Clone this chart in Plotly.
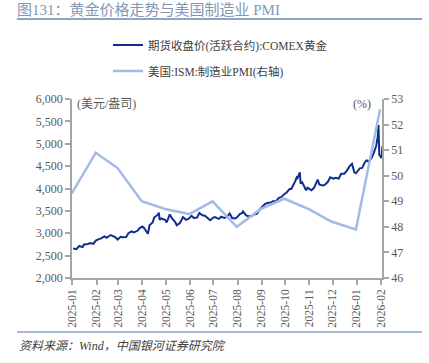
import plotly.graph_objects as go

# ---- data ----
gold_dates = [
    "2025-01-02", "2025-01-06", "2025-01-08", "2025-01-10", "2025-01-14", "2025-01-16",
    "2025-01-21", "2025-01-24", "2025-01-28", "2025-01-31", "2025-02-04", "2025-02-07",
    "2025-02-11", "2025-02-14", "2025-02-19", "2025-02-21", "2025-02-25", "2025-02-28",
    "2025-03-04", "2025-03-07", "2025-03-11", "2025-03-14", "2025-03-18", "2025-03-21",
    "2025-03-26", "2025-03-28", "2025-04-01", "2025-04-03", "2025-04-08", "2025-04-10",
    "2025-04-14", "2025-04-16", "2025-04-21", "2025-04-22", "2025-04-23", "2025-04-25",
    "2025-04-30", "2025-05-02", "2025-05-06", "2025-05-09", "2025-05-13", "2025-05-15",
    "2025-05-19", "2025-05-23", "2025-05-27", "2025-05-30", "2025-06-03", "2025-06-06",
    "2025-06-10", "2025-06-13", "2025-06-17", "2025-06-20", "2025-06-24", "2025-06-27",
    "2025-07-01", "2025-07-03", "2025-07-08", "2025-07-11", "2025-07-15", "2025-07-18",
    "2025-07-22", "2025-07-25", "2025-07-29", "2025-07-31", "2025-08-04", "2025-08-07",
    "2025-08-08", "2025-08-12", "2025-08-15", "2025-08-20", "2025-08-22", "2025-08-26",
    "2025-08-29", "2025-09-02", "2025-09-05", "2025-09-09", "2025-09-12", "2025-09-16",
    "2025-09-19", "2025-09-23", "2025-09-26", "2025-09-30", "2025-10-03", "2025-10-07",
    "2025-10-09", "2025-10-14", "2025-10-16", "2025-10-17", "2025-10-20", "2025-10-21",
    "2025-10-23", "2025-10-27", "2025-10-28", "2025-10-30", "2025-11-04", "2025-11-07",
    "2025-11-10", "2025-11-12", "2025-11-14", "2025-11-18", "2025-11-21", "2025-11-25",
    "2025-11-28", "2025-12-02", "2025-12-05", "2025-12-09", "2025-12-12", "2025-12-16",
    "2025-12-19", "2025-12-23", "2025-12-26", "2025-12-29", "2025-12-31", "2026-01-05",
    "2026-01-08", "2026-01-12", "2026-01-14", "2026-01-16", "2026-01-20", "2026-01-22",
    "2026-01-26", "2026-01-28", "2026-01-29", "2026-01-30", "2026-02-02", "2026-02-03",
]
gold_values = [
    2660, 2645, 2680, 2715, 2690, 2750,
    2760, 2780, 2765, 2835, 2870, 2885,
    2930, 2900, 2960, 2950, 2915, 2860,
    2920, 2910, 2915, 3000, 3040, 3020,
    3060, 3110, 3150, 3120, 2990, 3180,
    3240, 3350, 3420, 3460, 3300, 3330,
    3300, 3240, 3420, 3330, 3250, 3180,
    3230, 3360, 3300, 3320, 3390, 3340,
    3350, 3450, 3400, 3390, 3330, 3290,
    3350, 3360, 3320, 3370, 3340, 3360,
    3440, 3340, 3330, 3350, 3430, 3455,
    3490, 3400, 3380, 3390, 3420, 3435,
    3520, 3590, 3650, 3680, 3680, 3720,
    3705, 3790, 3805, 3870, 3910, 3990,
    3990, 4160, 4250, 4230, 4360, 4110,
    4140, 4000, 3960, 4020, 3960, 4010,
    4120, 4200, 4090, 4070, 4080, 4150,
    4250, 4220, 4240, 4220, 4330, 4330,
    4390, 4500, 4550, 4360, 4340, 4450,
    4460, 4600, 4630, 4600, 4680, 4750,
    4950, 5150, 5420, 4750, 4680, 4950,
]

pmi_dates = [
    "2024-12-31", "2025-01-31", "2025-02-28", "2025-03-31", "2025-04-30", "2025-05-31",
    "2025-06-30", "2025-07-31", "2025-08-31", "2025-09-30", "2025-10-31", "2025-11-30",
    "2025-12-31", "2026-01-31",
]
pmi_values = [49.3, 50.9, 50.3, 49.0, 48.7, 48.5, 49.0, 48.0, 48.7, 49.1, 48.7, 48.2, 47.9, 52.6]

tick_dates = [
    "2025-01-01", "2025-02-01", "2025-03-01", "2025-04-01", "2025-05-01", "2025-06-01",
    "2025-07-01", "2025-08-01", "2025-09-01", "2025-10-01", "2025-11-01", "2025-12-01",
    "2026-01-01", "2026-02-01",
]
tick_labels = [
    "2025-01", "2025-02", "2025-03", "2025-04", "2025-05", "2025-06", "2025-07",
    "2025-08", "2025-09", "2025-10", "2025-11", "2025-12", "2026-01", "2026-02",
]

gold_name = "期货收盘价(活跃合约):COMEX黄金"
pmi_name = "美国:ISM:制造业PMI(右轴)"
title_text = "图131：黄金价格走势与美国制造业 PMI"
source_text = "资料来源：Wind，中国银河证券研究院"

# ---- figure ----
W, H = 429, 363
L, R, T, B = 72, 47, 99, 85
PW, PH = W - L - R, H - T - B

def px_x(x):
    return (x - L) / PW

def px_y(y):
    return 1 - (y - T) / PH

FONT = "Liberation Serif, 'Noto Sans CJK SC', serif"
GRAY = "#595959"
AXIS = "#A6A6A6"
NAVY = "#0F2F8F"
LIGHT = "#A3B9E6"
RULE = "#8EA1CB"

fig = go.Figure()
fig.add_trace(go.Scatter(
    x=pmi_dates, y=pmi_values, name=pmi_name, mode="lines",
    line=dict(color=LIGHT, width=2.5), yaxis="y2", legend="legend2",
))
fig.add_trace(go.Scatter(
    x=gold_dates, y=gold_values, name=gold_name, mode="lines",
    line=dict(color=NAVY, width=2), yaxis="y", legend="legend",
))

axis_common = dict(
    showgrid=False, zeroline=False, showline=True, linecolor=AXIS, linewidth=1.5,
    ticks="outside", ticklen=5, tickcolor=AXIS, tickwidth=1.5,
)

fig.update_layout(
    width=W, height=H,
    margin=dict(l=L, r=R, t=T, b=B, pad=0, autoexpand=False),
    paper_bgcolor="white", plot_bgcolor="white",
    font=dict(family=FONT, color=GRAY, size=12),
    showlegend=True,
    xaxis=dict(
        type="date", range=["2024-12-31 12:00", "2026-02-02 12:00"],
        tickvals=tick_dates, ticktext=tick_labels, tickangle=-90,
        tickfont=dict(size=11.5, color=GRAY, family=FONT),
        **axis_common,
    ),
    yaxis=dict(
        range=[2000, 6000], dtick=500, tickformat=",",
        tickfont=dict(size=12, color=GRAY, family=FONT),
        **axis_common,
    ),
    yaxis2=dict(
        overlaying="y", side="right", range=[46, 53], dtick=1,
        tickfont=dict(size=12, color=GRAY, family=FONT),
        **axis_common,
    ),
    legend=dict(
        x=px_x(108), y=px_y(45), xanchor="left", yanchor="middle",
        bgcolor="rgba(0,0,0,0)", font=dict(size=11.5, color="#404040", family=FONT),
        itemwidth=30,
    ),
    legend2=dict(
        x=px_x(108), y=px_y(71), xanchor="left", yanchor="middle",
        bgcolor="rgba(0,0,0,0)", font=dict(size=11.5, color="#404040", family=FONT),
        itemwidth=30,
    ),
    title=dict(
        text=title_text, x=17 / W, y=1 - 10 / H, xref="container", yref="container",
        xanchor="left", yanchor="middle",
        font=dict(size=15, color="#8497B0", family=FONT),
    ),
    shapes=[
        dict(type="line", xref="paper", yref="paper", x0=px_x(17), x1=px_x(422),
             y0=px_y(19), y1=px_y(19), line=dict(color=RULE, width=2)),
        dict(type="line", xref="paper", yref="paper", x0=px_x(17), x1=px_x(422),
             y0=px_y(332), y1=px_y(332), line=dict(color=RULE, width=1.5)),
    ],
    annotations=[
        dict(text="(美元/盎司)", xref="paper", yref="paper", x=px_x(75), y=px_y(104),
             xanchor="left", yanchor="middle", showarrow=False,
             font=dict(size=12, color=GRAY, family=FONT)),
        dict(text="(%)", xref="paper", yref="paper", x=px_x(373), y=px_y(104),
             xanchor="right", yanchor="middle", showarrow=False,
             font=dict(size=12, color=GRAY, family=FONT)),
        dict(text=source_text, xref="paper", yref="paper", x=px_x(17), y=px_y(346),
             xanchor="left", yanchor="middle", showarrow=False,
             font=dict(size=12, color="#404040", family=FONT, style="italic")),
    ],
)

fig.write_html(
    "out.html",
    config={"displayModeBar": False},
    post_script="document.body.style.margin='0';document.body.style.overflow='hidden';",
)
